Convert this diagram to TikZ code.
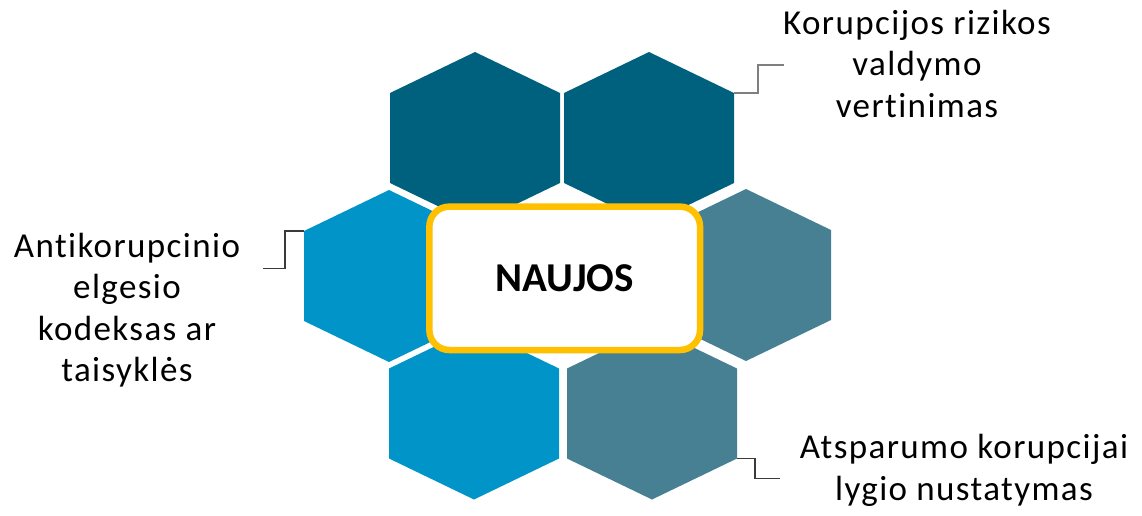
\documentclass[tikz,border=0pt]{standalone}
\usepackage{fontspec}
\setmainfont{Carlito}
\newfontfamily\labelfont[LetterSpace=4.0,Ligatures=NoCommon]{Carlito}
\definecolor{hexdark}{HTML}{00617F}
\definecolor{hexblue}{HTML}{0094C8}
\definecolor{hexgray}{HTML}{477F93}
\definecolor{boxyellow}{HTML}{FFC000}
\definecolor{conndark}{HTML}{3A3A3A}
\definecolor{conngray}{HTML}{7F7F7F}
\tikzset{
  hexfill/.style={fill=#1, draw=none},
  conn/.style={draw=#1, line width=1.6pt},
  sidelabel/.style={align=center, inner sep=0pt, text=black,
    font=\labelfont\fontsize{35}{41.5}\selectfont},
  mainbox/.style={draw=boxyellow, line width=6.5pt, fill=white,
    rounded corners=20pt, minimum width=270.7pt, minimum height=143.4pt,
    inner sep=0pt, font=\fontsize{41}{48}\selectfont\bfseries}
}
\newcommand\hexcell[4]{%
  \begin{scope}[shift={(#2,#3)}]
    \fill[hexfill=#4] (-85,-45) -- (0,-86) -- (85,-45) -- (85,45) -- (0,86) -- (-85,45) -- cycle;
    \coordinate (#1-nw) at (-85,-45);
    \coordinate (#1-ne) at (85,-45);
    \coordinate (#1-se) at (85,45);
    \coordinate (#1-sw) at (-85,45);
  \end{scope}}
\begin{document}
\begin{tikzpicture}[x=1pt,y=-1pt]
\useasboundingbox (0,0) rectangle (1142,515);
% honeycomb
\hexcell{TL}{475}{138}{hexdark}
\hexcell{TR}{649}{138}{hexdark}
\hexcell{ML}{389}{276}{hexblue}
\hexcell{MR}{746}{275}{hexgray}
\hexcell{BL}{474}{413.5}{hexblue}
\hexcell{BR}{652}{413.5}{hexgray}
% centre box
\node[mainbox] (naujos) at (564.7,278.3) {NAUJOS};
% labels (anchored at the baseline of the last line)
\node[sidelabel, anchor=base] (kr) at (917,117) {Korupcijos rizikos\\valdymo\\vertinimas};
\node[sidelabel, anchor=base] (ak) at (127,381.7) {Antikorupcinio\\elgesio\\kodeksas ar\\taisyklės};
\node[sidelabel, anchor=base] (ap) at (964,500) {Atsparumo korupcijai\\lygio nustatymas};
% connector ends
\coordinate (krEnd) at (784,65);
\coordinate (akEnd) at (263,268.3);
\coordinate (apEnd) at (780,478.3);
\draw[conn=conngray] (TR-ne) -- ++(24,0) |- (krEnd);
\draw[conn=conndark] (ML-nw) -- ++(-19,0) |- (akEnd);
\draw[conn=conndark] (BR-se) -- ++(18,0) |- (apEnd);
\end{tikzpicture}
\end{document}
